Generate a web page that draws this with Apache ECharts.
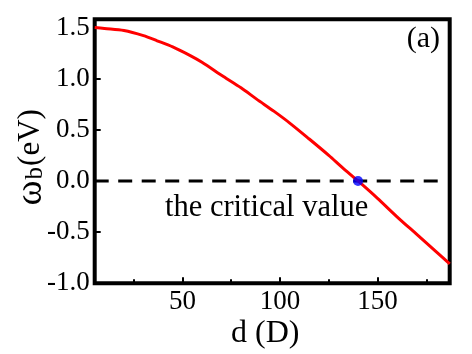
<!DOCTYPE html>
<html>
<head>
<meta charset="utf-8">
<script src="https://cdn.jsdelivr.net/npm/echarts@6/dist/echarts.min.js"></script>
<style>
  html, body { margin: 0; padding: 0; background: #fff; }
  #chart { width: 472px; height: 354px; }
</style>
</head>
<body>
<div id="chart"></div>
<script>
const FONT = "'Liberation Serif', 'Times New Roman', serif"

// d (D) and omega_b (eV)
const dValues = [5, 10, 20, 30, 37, 45, 54, 60, 71, 80, 88, 97, 105, 115, 125, 132, 140, 150, 160, 170, 180, 187]
const omegaValues = [1.50, 1.49, 1.47, 1.42, 1.37, 1.31, 1.225, 1.16, 1.02, 0.91, 0.80, 0.68, 0.566, 0.41, 0.25, 0.13, 0.00, -0.17, -0.35, -0.52, -0.69, -0.81]

const criticalPoint = [140, 0]
const zeroLineX = [5, 182]

const xMajorTicks = [50, 100, 150]
const xMinorTicks = [25, 75, 125, 175]

const chart = echarts.init(document.getElementById('chart'))

chart.setOption({
  animation: false,
  grid: {
    left: 94.7, right: 22.3, top: 19.3, bottom: 70.7,
    outerBoundsMode: 'none',
    show: true, borderColor: '#000', borderWidth: 4,
  },
  xAxis: [{
    type: 'value',
    min: 5, max: 187,
    axisLine: { show: false, onZero: false },
    axisTick: {
      inside: true, length: 6, customValues: xMajorTicks,
      lineStyle: { color: '#000', width: 2 },
    },
    axisLabel: {
      customValues: xMajorTicks,
      fontFamily: FONT, fontSize: 27, color: '#000', margin: 5,
    },
    splitLine: { show: false },
    name: 'd (D)',
    nameLocation: 'middle',
    nameGap: 34,
    nameMoveOverlap: false,
    nameTextStyle: { fontFamily: FONT, fontSize: 32, color: '#000', padding: [0, 14, 0, 0] },
  }, {
    type: 'value',
    min: 5, max: 187,
    position: 'bottom',
    axisLine: { show: false, onZero: false },
    axisTick: {
      inside: true, length: 4, customValues: xMinorTicks,
      lineStyle: { color: '#000', width: 2 },
    },
    axisLabel: { show: false },
    splitLine: { show: false },
  }],
  yAxis: {
    type: 'value',
    min: -1, max: 1.58, interval: 0.5,
    axisLine: { show: false, onZero: false },
    axisTick: { inside: true, length: 6, lineStyle: { color: '#000', width: 2 } },
    axisLabel: {
      fontFamily: FONT, fontSize: 27, color: '#000', margin: 5,
      formatter: v => v.toFixed(1),
    },
    splitLine: { show: false },
    name: '{w|ω}{s|b}{p|(eV)}',
    nameLocation: 'middle',
    nameRotate: 90,
    nameGap: 47,
    nameMoveOverlap: false,
    nameTextStyle: {
      padding: [0, 12, 0, 0],
      rich: {
        w: { fontFamily: FONT, fontSize: 38, color: '#000', lineHeight: 34, verticalAlign: 'middle' },
        s: { fontFamily: FONT, fontSize: 25, color: '#000', lineHeight: 34, verticalAlign: 'bottom', padding: [30, 1, 0, 1] },
        p: { fontFamily: FONT, fontSize: 31, color: '#000', lineHeight: 34, verticalAlign: 'middle' },
      },
    },
  },
  graphic: [{
    type: 'text',
    right: 32, top: 24,
    style: { text: '(a)', font: '30px ' + FONT, fill: '#000' },
  }, {
    type: 'text',
    left: 165, top: 192,
    style: { text: 'the critical value', font: '30.5px ' + FONT, fill: '#000' },
  }],
  series: [{
    type: 'line',
    data: zeroLineX.map(x => [x, 0]),
    symbol: 'none',
    silent: true,
    lineStyle: { color: '#000', width: 3, type: [14, 9.5] },
    z: 1,
  }, {
    type: 'line',
    data: dValues.map((d, i) => [d, omegaValues[i]]),
    smooth: 0.3,
    symbol: 'none',
    lineStyle: { color: '#ff0000', width: 3 },
    z: 2,
  }, {
    type: 'scatter',
    data: [criticalPoint],
    symbolSize: 10,
    itemStyle: { color: '#0000ff' },
    z: 3,
  }],
})
</script>
</body>
</html>
